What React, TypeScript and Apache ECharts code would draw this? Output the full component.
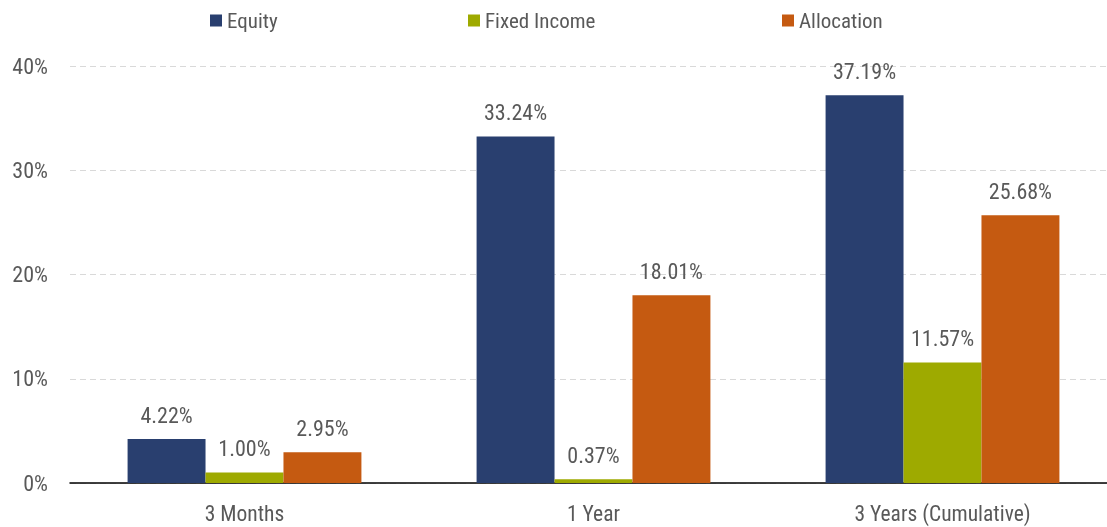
import React, { useEffect, useRef } from "react";
import * as echarts from "echarts";

const categories = ["3 Months", "1 Year", "3 Years (Cumulative)"];
const seriesNames = ["Equity", "Fixed Income", "Allocation"];
const equity = [4.22, 33.24, 37.19];
const fixedIncome = [1.0, 0.37, 11.57];
const allocation = [2.95, 18.01, 25.68];
const yTicks = [0, 10, 20, 30, 40];

const FONT = "'Roboto Condensed', Roboto, sans-serif";
const TEXT = "#595959";
const COLORS = ["#293F6F", "#9EAA00", "#C55A11"];
const LEGEND_LEFT = [210, 468, 782];

export default function App() {
  const ref = useRef<HTMLDivElement>(null);
  useEffect(() => {
    if (!ref.current) return;
    const chart = echarts.init(ref.current, undefined, { renderer: "svg" });
    const values = [equity, fixedIncome, allocation];
    chart.setOption({
      animation: false,
      textStyle: { fontFamily: FONT },
      legend: seriesNames.map((n, i) => ({
        top: 10,
        left: LEGEND_LEFT[i],
        padding: 0,
        itemWidth: 12,
        itemHeight: 12,
        itemGap: 6,
        icon: "rect",
        textStyle: { color: TEXT, fontSize: 21, fontFamily: FONT },
        data: [n],
      })),
      grid: { left: 70, top: 66, width: 1047, bottom: 44, containLabel: false },
      xAxis: {
        type: "category",
        data: categories,
        axisTick: { show: false },
        axisLine: { lineStyle: { color: "#000", width: 1.5 } },
        axisLabel: { color: TEXT, fontSize: 21.5, fontFamily: FONT, margin: 19 },
      },
      yAxis: {
        type: "value",
        min: yTicks[0],
        max: yTicks[yTicks.length - 1],
        interval: 10,
        axisLine: { show: false },
        axisTick: { show: false },
        splitLine: { lineStyle: { color: "#d9d9d9", type: [6, 4] } },
        axisLabel: {
          color: TEXT,
          fontSize: 22,
          fontFamily: FONT,
          margin: 22,
          formatter: (v: number) => v + "%",
        },
      },
      series: seriesNames.map((name, i) => ({
        name,
        type: "bar",
        data: values[i],
        barGap: "0%",
        barCategoryGap: "33%",
        itemStyle: { color: COLORS[i] },
        label: {
          show: true,
          position: "top",
          distance: 13,
          formatter: (p: any) => p.value.toFixed(2) + "%",
          color: TEXT,
          fontFamily: FONT,
          fontSize: 22,
        },
      })),
    });
    return () => chart.dispose();
  }, []);
  return (
    <div style={{ position: "fixed", left: 0, top: 0, width: 1107, height: 527, overflow: "hidden" }}>
      <div ref={ref} style={{ position: "absolute", left: 0, top: 0, width: 1125, height: 527 }} />
    </div>
  );
}
